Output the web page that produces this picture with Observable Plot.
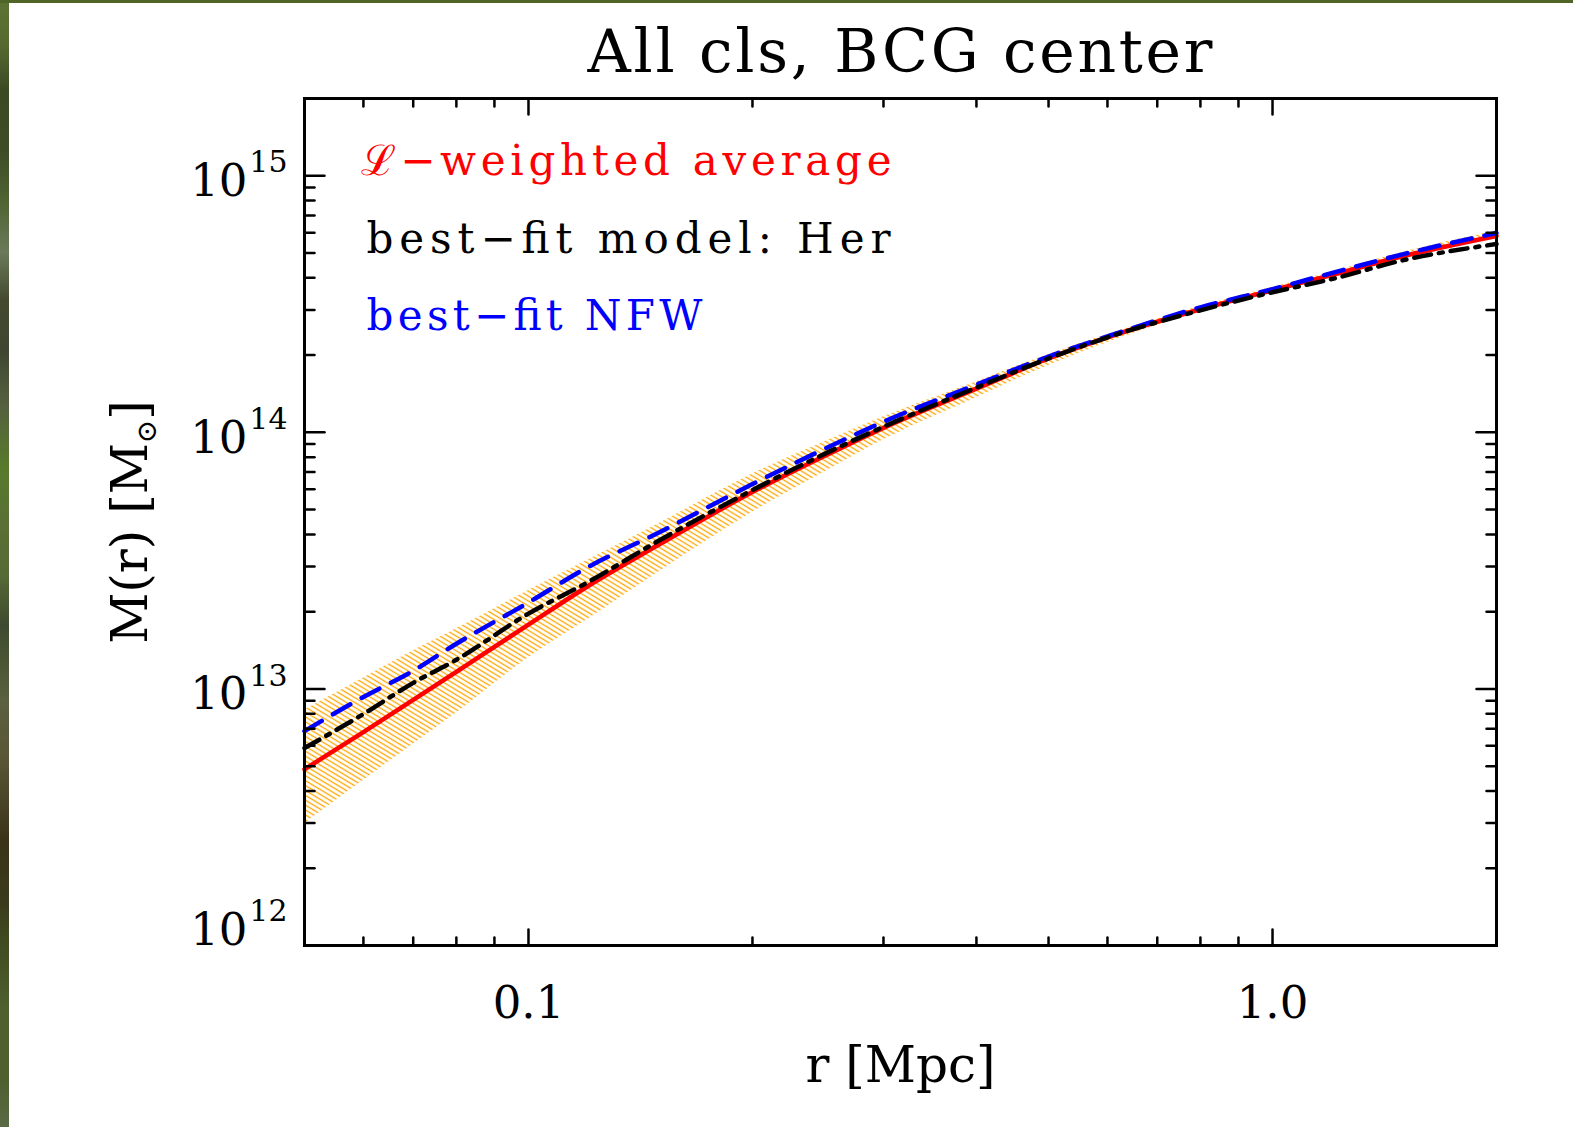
<!DOCTYPE html>
<html>
<head>
<meta charset="utf-8">
<script src="https://cdn.jsdelivr.net/npm/d3@7"></script>
<script src="https://cdn.jsdelivr.net/npm/@observablehq/plot@0.6"></script>
<style>
  html, body { margin: 0; padding: 0; background: #fff; }
  #page { position: relative; width: 1573px; height: 1127px; overflow: hidden; background: #fff; }
  #leftstrip { position: absolute; left: 0; top: 0; width: 9px; height: 1127px;
    background: linear-gradient(to bottom, #5c7232 0px, #566a30 45px, #3c4a24 90px, #3e4c26 150px, #4e6232 200px,
      #6a7a5a 252px, #44492f 300px, #3f4530 350px, #556040 405px, #587a2a 468px, #5a7035 520px, #566a35 575px,
      #3e4a30 625px, #4a5535 660px, #5a6040 700px, #5a5535 760px, #4a4428 800px, #3a3318 840px, #3b3a1c 900px,
      #404a20 940px, #4e6030 1010px, #4e6030 1080px, #5a6a45 1127px); }
  #topstrip { position: absolute; left: 0; top: 0; width: 1573px; height: 3px; background: #506428; }
  #title { position: absolute; left: 0; top: 0; }
  #chart { position: absolute; left: 0; top: 90px; }
</style>
</head>
<body>
<div id="page">
  <div id="leftstrip"></div>
  <div id="topstrip"></div>
  <svg id="title" width="1573" height="90">
    <text x="900" y="72" text-anchor="middle" font-family="DejaVu Serif" font-size="60" textLength="625" lengthAdjust="spacing" fill="#000">All cls, BCG center</text>
  </svg>
  <div id="chart"></div>
</div>
<script>
// ---- data ----
const rVals      = [0.05, 0.06, 0.07, 0.08, 0.1, 0.12, 0.15, 0.2, 0.25, 0.3, 0.4, 0.5, 0.6, 0.8, 1.0, 1.2, 1.5, 2.0];
const mWeighted  = [4.86e12, 6.79e12, 9.06e12, 1.166e13, 1.780e13, 2.507e13, 3.661e13, 5.850e13, 8.09e13, 1.041e14, 1.480e14, 1.940e14, 2.344e14, 3.017e14, 3.580e14, 4.098e14, 4.863e14, 5.824e14];
const mHer       = [5.88e12, 7.98e12, 1.056e13, 1.299e13, 1.966e13, 2.599e13, 3.795e13, 5.957e13, 8.24e13, 1.051e14, 1.494e14, 1.940e14, 2.344e14, 2.989e14, 3.516e14, 3.953e14, 4.690e14, 5.419e14];
const mNFW       = [6.85e12, 9.30e12, 1.176e13, 1.500e13, 2.171e13, 2.976e13, 4.080e13, 6.286e13, 8.617e13, 1.099e14, 1.534e14, 1.975e14, 2.365e14, 3.071e14, 3.612e14, 4.173e14, 4.951e14, 5.983e14];
const bandHi     = [8.28e12, 1.104e13, 1.408e13, 1.717e13, 2.418e13, 3.170e13, 4.424e13, 6.880e13, 9.18e13, 1.150e14, 1.576e14, 2.011e14, 2.407e14, 3.099e14, 3.678e14, 4.210e14, 5.041e14, 6.092e14];
const bandLo     = [2.99e12, 4.40e12, 6.09e12, 8.06e12, 1.322e13, 1.863e13, 2.870e13, 4.885e13, 7.005e13, 9.35e13, 1.365e14, 1.821e14, 2.240e14, 2.936e14, 3.516e14, 4.025e14, 4.776e14, 5.719e14];

const xMajor       = [0.1, 1.0];
const xMajorLabels = ["0.1", "1.0"];
const xMinor       = [0.06, 0.07, 0.08, 0.09, 0.2, 0.3, 0.4, 0.5, 0.6, 0.7, 0.8, 0.9];
const yMajor       = [1e12, 1e13, 1e14, 1e15];
const yExpLabels   = ["12", "13", "14", "15"];
const yMinor       = [2e12, 3e12, 4e12, 5e12, 6e12, 7e12, 8e12, 9e12,
                      2e13, 3e13, 4e13, 5e13, 6e13, 7e13, 8e13, 9e13,
                      2e14, 3e14, 4e14, 5e14, 6e14, 7e14, 8e14, 9e14];
const legendLabels = ["ℒ−weighted average", "best−fit model: Her", "best−fit NFW"];
const legendColors = ["#ff0000", "#000000", "#0000ff"];
const xTitle = "r [Mpc]";
const yTitle = "M(r) [M⊙]";

// ---- tables ----
const rows = rVals.map((r, i) => ({r, w: mWeighted[i], her: mHer[i], nfw: mNFW[i], lo: bandLo[i], hi: bandHi[i]}));

const tickShape = {draw(ctx, l) { ctx.moveTo(0, 0); ctx.lineTo(0, -l); }};
const tk = {shape: tickShape, anchor: "start", stroke: "#000", strokeWidth: 2.5};

const FONT = "DejaVu Serif";

const chart = Plot.plot({
  width: 1573,
  height: 1037,
  marginLeft: 304,
  marginRight: 77,
  marginTop: 8,
  marginBottom: 182,
  style: {fontFamily: FONT, background: "transparent", color: "#000", overflow: "visible"},
  x: {type: "log", domain: [0.05, 2], axis: null},
  y: {type: "log", domain: [1e12, 2e15], axis: null},
  marks: [
    Plot.areaY(rows, {x: "r", y1: "lo", y2: "hi", fill: "url(#hatch)", curve: "monotone-x"}),
    Plot.line(rows, {x: "r", y: "w", stroke: "#ff0000", strokeWidth: 4.5, curve: "monotone-x"}),
    Plot.line(rows, {x: "r", y: "nfw", stroke: "#0000ff", strokeWidth: 4.5, strokeDasharray: "20,13", curve: "monotone-x"}),
    Plot.line(rows, {x: "r", y: "her", stroke: "#000000", strokeWidth: 4.5, strokeDasharray: "17,8,4,8", curve: "monotone-x"}),
    // ticks, all four sides, pointing inward
    Plot.vector(xMajor, {x: d => d, frameAnchor: "bottom", length: 16, rotate: 0, ...tk}),
    Plot.vector(xMinor, {x: d => d, frameAnchor: "bottom", length: 8, rotate: 0, ...tk}),
    Plot.vector(xMajor, {x: d => d, frameAnchor: "top", length: 16, rotate: 180, ...tk}),
    Plot.vector(xMinor, {x: d => d, frameAnchor: "top", length: 8, rotate: 180, ...tk}),
    Plot.vector(yMajor, {y: d => d, frameAnchor: "left", length: 20, rotate: 90, ...tk}),
    Plot.vector(yMinor, {y: d => d, frameAnchor: "left", length: 10, rotate: 90, ...tk}),
    Plot.vector(yMajor, {y: d => d, frameAnchor: "right", length: 20, rotate: -90, ...tk}),
    Plot.vector(yMinor, {y: d => d, frameAnchor: "right", length: 10, rotate: -90, ...tk}),
    Plot.frame({stroke: "#000", strokeWidth: 3}),
    // x tick labels
    Plot.text(xMajor, {x: d => d, text: (d, i) => xMajorLabels[i], frameAnchor: "bottom", dy: 58, fontSize: 45, lineAnchor: "middle"}),
    // y tick labels: 10 with superscript exponent
    Plot.text(yMajor.slice(1), {y: d => d, text: () => "10", frameAnchor: "left", textAnchor: "end", dx: -57, dy: 6, fontSize: 45, lineAnchor: "middle"}),
    Plot.text(yMajor.slice(1), {y: d => d, text: (d, i) => yExpLabels[i + 1], frameAnchor: "left", textAnchor: "end", dx: -17, dy: -13, fontSize: 30, lineAnchor: "middle"}),
    Plot.text(yMajor.slice(0, 1), {y: d => d, text: () => "10", frameAnchor: "left", textAnchor: "end", dx: -57, dy: -15, fontSize: 45, lineAnchor: "middle"}),
    Plot.text(yMajor.slice(0, 1), {y: d => d, text: (d, i) => yExpLabels[i], frameAnchor: "left", textAnchor: "end", dx: -17, dy: -34, fontSize: 30, lineAnchor: "middle"}),
    // axis titles
    Plot.text([xTitle], {text: d => d, frameAnchor: "bottom", textAnchor: "middle", dy: 120, fontSize: 50, lineAnchor: "middle"}),
    Plot.text([yTitle], {text: d => d, frameAnchor: "left", textAnchor: "middle", dx: -174, rotate: -90, fontSize: 50, lineAnchor: "middle"}),
    // legend
    Plot.text([legendLabels[0]], {text: d => d, frameAnchor: "top-left", textAnchor: "start", dx: 56, dy: 63, fontSize: 42, lineAnchor: "middle", fill: legendColors[0]}),
    Plot.text([legendLabels[1]], {text: d => d, frameAnchor: "top-left", textAnchor: "start", dx: 62, dy: 141, fontSize: 42, lineAnchor: "middle", fill: legendColors[1]}),
    Plot.text([legendLabels[2]], {text: d => d, frameAnchor: "top-left", textAnchor: "start", dx: 62, dy: 218, fontSize: 42, lineAnchor: "middle", fill: legendColors[2]})
  ]
});

// hatch pattern for the uncertainty band
const svg = d3.select(chart);
const defs = svg.insert("defs", ":first-child");
const pat = defs.append("pattern")
  .attr("id", "hatch")
  .attr("patternUnits", "userSpaceOnUse")
  .attr("width", 10)
  .attr("height", 4.2)
  .attr("patternTransform", "rotate(31)");
pat.append("line")
  .attr("x1", 0).attr("y1", 2.1).attr("x2", 10).attr("y2", 2.1)
  .attr("stroke", "#ffa500").attr("stroke-width", 1.3);

// legend widths (spacing as in the reference)
const widths = {};
widths[legendLabels[0]] = 531;
widths[legendLabels[1]] = 524;
widths[legendLabels[2]] = 336;
svg.selectAll("text").each(function() {
  const t = this.textContent;
  if (widths[t]) {
    d3.select(this).attr("textLength", widths[t]).attr("lengthAdjust", "spacing");
  }
  if (t === yTitle) {
    const el = d3.select(this);
    el.text(null);
    el.append("tspan").text("M(r) [M");
    el.append("tspan").attr("font-size", 28).attr("baseline-shift", "-9").text("⊙");
    el.append("tspan").text("]");
  }
});

document.getElementById("chart").appendChild(chart);
</script>
</body>
</html>
